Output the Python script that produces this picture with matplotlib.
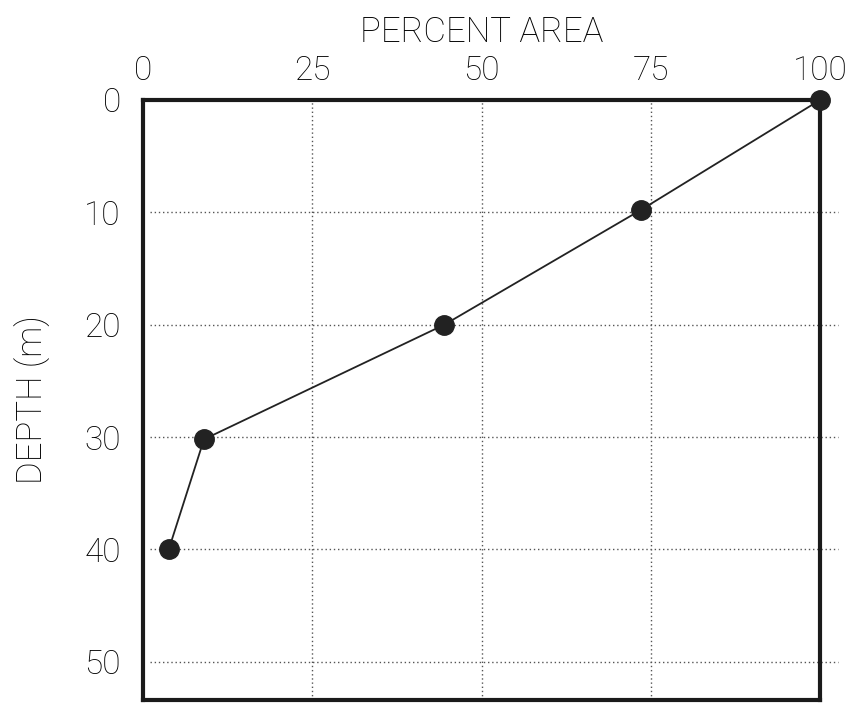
import matplotlib
matplotlib.use("Agg")
from matplotlib import pyplot as plt

# dados
area_pct = [100, 73.5, 44.5, 9.0, 3.8]
depth_m = [0, 9.8, 20, 30.2, 40]
x_ticks = [0, 25, 50, 75, 100]
y_ticks = [0, 10, 20, 30, 40, 50]

plt.rcParams['font.family'] = ['Roboto', 'DejaVu Sans']
plt.rcParams['font.weight'] = 'light'
plt.rcParams['axes.labelweight'] = 'light'

fig = plt.figure(figsize=(8.57, 7.06), dpi=100)
ax = fig.add_axes([0.1669, 0.0085, 0.790, 0.8499])

# grade pontilhada (horizontal passa um pouco da borda direita)
for y in y_ticks[1:]:
    ax.plot([1, 102.7], [y, y], ls=(0, (1, 2)), color='#555555', lw=1.0,
            clip_on=False, zorder=1)
for x in x_ticks[1:-1]:
    ax.axvline(x, ls=(0, (1, 2)), color='#555555', lw=1.0, zorder=1)

ax.plot(area_pct, depth_m, color='#222222', lw=1.3, zorder=3)
ax.plot(area_pct, depth_m, 'o', color='#222222', ms=14, zorder=4, clip_on=False)

ax.set_xlim(0, 100)
ax.set_ylim(53.4, 0)
ax.xaxis.tick_top()
ax.xaxis.set_label_position('top')
ax.set_xticks(x_ticks)
ax.set_yticks(y_ticks)
ax.tick_params(length=0, labelsize=24, colors='#000000')
ax.tick_params(axis='x', pad=9)
ax.tick_params(axis='y', pad=16)
ax.set_xlabel('PERCENT AREA', fontsize=25, color='#000000', labelpad=10)
ax.set_ylabel('DEPTH (m)', fontsize=25, color='#000000', labelpad=24)

for s in ax.spines.values():
    s.set_linewidth(3)
    s.set_color('#1a1a1a')

fig.savefig('out.png', dpi=100)
